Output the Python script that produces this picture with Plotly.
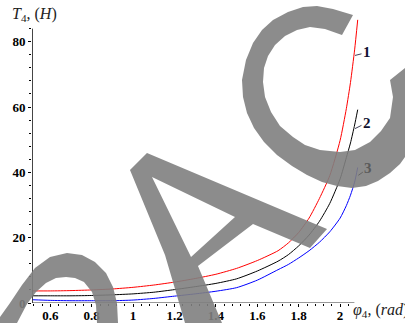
import plotly.graph_objects as go

# ---------------- data ----------------
phi = [0.513, 0.6, 0.7, 0.8, 0.9, 1.0, 1.1, 1.2, 1.3, 1.4, 1.5, 1.6, 1.7,
       1.75, 1.8, 1.85, 1.9, 1.95, 2.0, 2.03, 2.05, 2.07, 2.085]
T_curve1 = [3.7, 3.7, 3.8, 4.0, 4.3, 4.8, 5.5, 6.4, 7.5, 8.8, 10.6, 13.0, 16.0,
            18.4, 21.6, 26.0, 32.0, 39.0, 49.8, 59.5, 67.5, 77.5, 86.7]
T_curve2 = [2.2, 2.2, 2.2, 2.3, 2.5, 2.8, 3.3, 4.1, 5.0, 6.0, 7.4, 9.8, 12.8,
            14.8, 17.5, 20.8, 25.0, 30.5, 38.0, 44.5, 49.0, 54.5, 59.2]
T_curve3 = [1.0, 0.8, 0.7, 0.7, 0.7, 0.9, 1.4, 2.1, 2.8, 3.6, 4.7, 7.0, 10.2,
            11.8, 13.8, 16.0, 18.6, 21.8, 26.0, 29.8, 33.0, 37.0, 41.5]
curve_names = ["1", "2", "3"]
curve_colors = ["#ff0000", "#000000", "#0000ff"]

x_tickvals = [0.6, 0.8, 1.0, 1.2, 1.4, 1.6, 1.8, 2.0]
x_ticktext = ["0.6", "0.8", "1", "1.2", "1.4", "1.6", "1.8", "2"]
y_tickvals = [0, 20, 40, 60, 80]
y_ticktext = ["0", "20", "40", "60", "80"]

# ---------------- geometry of the page ----------------
W, H = 405, 323
ML, MR, MT, MB = 32, 0, 0, 20
PW, PH = W - ML - MR, H - MT - MB
X0, XSCALE = 0.5115, 207.0          # px per rad
X1 = X0 + PW / XSCALE
Y1 = PH / 3.266

fig = go.Figure()
for name, col, ys in zip(curve_names, curve_colors, [T_curve1, T_curve2, T_curve3]):
    fig.add_trace(go.Scatter(x=phi, y=ys, mode="lines", name=name,
                             line=dict(color=col, width=1, shape="spline", smoothing=0.6),
                             showlegend=False, hoverinfo="skip"))

x_minor = [round(0.52 + 0.04 * i, 3) for i in range(39) if round(0.52 + 0.04 * i, 3) <= 2.06]
y_minor = [v for v in range(0, 85, 4) if v % 20 != 0]

tickfont = dict(family="Liberation Serif", size=13, color="black", weight="bold")
fig.update_xaxes(range=[X0, X1], showgrid=False, zeroline=False, showline=False,
                 tickmode="array", tickvals=x_tickvals, ticktext=x_ticktext,
                 ticks="outside", ticklen=3, tickcolor="black", tickfont=tickfont,
                 ticklabelstandoff=-3,
                 minor=dict(tickmode="array", tickvals=x_minor, ticks="outside",
                            ticklen=2, tickcolor="black"))
fig.update_yaxes(range=[0, Y1], showgrid=False, zeroline=False, showline=False,
                 tickmode="array", tickvals=y_tickvals, ticktext=y_ticktext,
                 ticks="outside", ticklen=3, tickcolor="black", tickfont=tickfont,
                 minor=dict(tickmode="array", tickvals=y_minor, ticks="outside",
                            ticklen=2, tickcolor="black"))

# axis lines
fig.add_shape(type="line", xref="x", yref="y", x0=X0 + 0.002, x1=2.069, y0=0, y1=0,
              line=dict(color="#333333", width=1))
fig.add_shape(type="line", xref="x", yref="y", x0=X0 + 0.002, x1=X0 + 0.002, y0=0, y1=84,
              line=dict(color="#333333", width=1))

# axis titles
fig.add_annotation(xref="paper", yref="paper", x=(10 - ML) / PW, y=(PH - 14) / PH,
                   xanchor="left", yanchor="middle", showarrow=False,
                   text="<i>T</i><sub>4</sub>, (<i>H</i>)",
                   font=dict(family="Liberation Serif", size=16, color="#222222"))
fig.add_annotation(xref="paper", yref="paper", x=(351 - ML) / PW, y=(PH - 310) / PH,
                   xanchor="left", yanchor="middle", showarrow=False,
                   text="<i>φ</i><sub>4</sub>, (<i>rad</i>)",
                   font=dict(family="Liberation Serif", size=16, color="#222222"))

# curve labels with leader lines
labels = [("1", 2.072, 75.8, 12, -3, "#101030"),
          ("2", 2.072, 53.4, 12, -6, "#101030"),
          ("3", 2.088, 39.1, 10, -7, "#5a5a5a")]
for txt, lx, ly, ax, ay, c in labels:
    fig.add_annotation(x=lx, y=ly, xref="x", yref="y", text="<b>%s</b>" % txt,
                       showarrow=True, arrowhead=0, arrowwidth=0.8, arrowcolor=c,
                       ax=ax, ay=ay, standoff=0,
                       font=dict(family="Liberation Serif", size=15, color=c))

# ---------------- grey "AC" watermark drawn over the chart ----------------
def to_paper(pts):
    return [((px - ML) / PW, (PH - (py - MT)) / PH) for px, py in pts]

def path_of(*polys):
    s = ""
    for poly in polys:
        p = to_paper(poly)
        s += "M %.4f %.4f " % p[0] + " ".join("L %.4f %.4f" % q for q in p[1:]) + " Z "
    return s

arch = [(0, 323), (0, 317), (10, 303), (22, 285), (35, 268), (50, 257), (67, 253),
        (82, 255), (95, 262), (106, 273), (113, 287), (117, 303), (118, 323),
        (97, 323), (96, 305), (92, 292), (84, 282), (75, 278), (66, 277), (56, 278),
        (46, 283), (36, 292), (27, 304), (17, 323)]
a_outer = [(130, 170), (147, 153), (327, 229), (310, 248), (253, 224), (198, 266),
           (222, 323), (185, 323), (165, 255)]
a_hole = [(152, 177), (235, 217), (191, 257)]
c_shape = [(353, 15), (333, 9), (317, 6), (303, 7), (288, 12), (273, 20), (262, 30),
           (253, 43), (246, 60), (242, 80), (243, 97), (247, 113), (254, 128),
           (264, 142), (277, 155), (292, 166), (307, 175), (322, 182), (337, 186),
           (352, 188), (366, 186), (378, 181), (390, 173), (400, 164), (405, 157),
           (405, 68), (390, 80), (393, 97), (390, 118), (381, 131), (370, 142),
           (355, 150), (340, 152), (320, 150), (305, 145), (293, 137), (280, 126),
           (271, 112), (265, 97), (263, 82), (264, 68), (268, 56), (275, 45),
           (285, 36), (297, 30), (310, 27), (325, 29), (342, 35)]
for shp in [path_of(arch), path_of(a_outer, a_hole), path_of(c_shape)]:
    fig.add_shape(type="path", xref="paper", yref="paper", path=shp,
                  fillcolor="rgb(127,127,127)", opacity=0.9, line=dict(width=0),
                  layer="above", fillrule="evenodd")

fig.update_layout(width=W, height=H, margin=dict(l=ML, r=MR, t=MT, b=MB),
                  paper_bgcolor="white", plot_bgcolor="white")
fig.write_html("out.html", config={"displayModeBar": False},
               post_script="document.body.style.margin='0';")
